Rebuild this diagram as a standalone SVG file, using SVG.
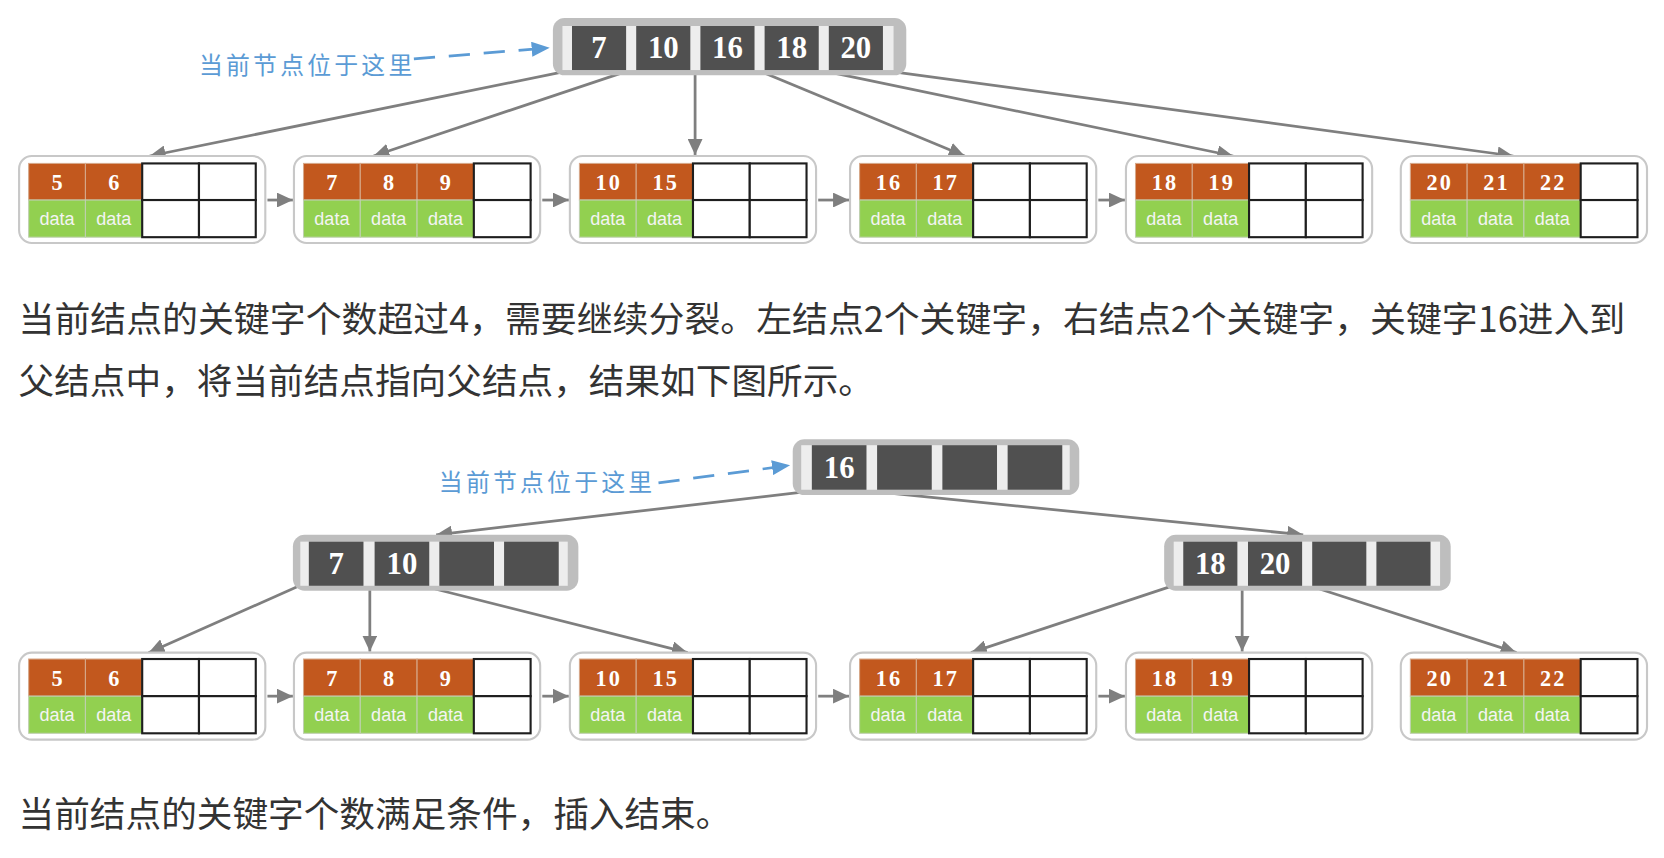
<svg xmlns="http://www.w3.org/2000/svg" width="1664" height="858" viewBox="0 0 1664 858">
<style>
.bg{fill:#ffffff}
.nOut{fill:#BEBEBE}
.nIn{fill:#EDEDED}
.nCell{fill:#505050}
.nTxt{font-family:"Liberation Serif",serif;font-weight:bold;font-size:29px;fill:#ffffff;text-anchor:middle}
.leafBox{fill:#ffffff;stroke:#C8C8C8;stroke-width:2}
.ok{fill:#C2581E;stroke:#D6A88A;stroke-width:1}
.gd{fill:#92D050;stroke:#BFD0B0;stroke-width:1}
.em{fill:#ffffff;stroke:#1E1E1E;stroke-width:2}
.kTxt{font-family:"Liberation Serif",serif;font-weight:bold;font-size:21px;fill:#ffffff;text-anchor:middle;letter-spacing:2px}
.dTxt{font-family:"Liberation Sans",Arial,sans-serif;font-size:17px;fill:#F4F4F4;text-anchor:middle}
.edge{stroke:#7F7F7F;stroke-width:2.6;fill:none;marker-end:url(#ag)}
.dash{stroke:#5B9BD5;stroke-width:2.6;fill:none;stroke-dasharray:20 13;marker-end:url(#ab)}
.blue{font-family:"Noto Sans CJK SC","Noto Sans",sans-serif;font-size:22.5px;fill:#5B9BD5}
.body{font-family:"Noto Sans CJK SC","Noto Sans",sans-serif;font-size:33.6px;fill:#333333}
</style>
<defs>
<marker id="ag" markerUnits="userSpaceOnUse" markerWidth="16" markerHeight="14" refX="15" refY="7" orient="auto"><path d="M0,0 L15,7 L0,14 z" fill="#7F7F7F"/></marker>
<marker id="ab" markerUnits="userSpaceOnUse" markerWidth="18" markerHeight="14" refX="17" refY="7" orient="auto"><path d="M0,0 L17,7 L0,14 z" fill="#5B9BD5"/></marker>
</defs>
<rect class="bg" x="0" y="0" width="1664" height="858"/>
<g transform="scale(1.06122)">

<!-- connectors -->
<g id="connectors">
<path class="dash" d="M390,55.5 L518,45"/>
<path class="edge" d="M534,67 L141,147"/>
<path class="edge" d="M591,67 L352,147"/>
<path class="edge" d="M655,67 L655,146"/>
<path class="edge" d="M716,67 L909,147"/>
<path class="edge" d="M777,67 L1162,147"/>
<path class="edge" d="M837,67 L1426,147"/>
<path class="edge" d="M252,188.5 L276,188.5"/>
<path class="edge" d="M511,188.5 L536,188.5"/>
<path class="edge" d="M771,188.5 L800,188.5"/>
<path class="edge" d="M1035,188.5 L1060,188.5"/>

<path class="dash" d="M620.5,455 L744.5,438.5"/>
<path class="edge" d="M762,463 L411,504"/>
<path class="edge" d="M822,463 L1228,504"/>
<path class="edge" d="M280,553 L140,615"/>
<path class="edge" d="M348.5,556 L348.5,614"/>
<path class="edge" d="M410,555 L648,615"/>
<path class="edge" d="M1102,553 L915,615"/>
<path class="edge" d="M1170.5,556 L1170.5,614"/>
<path class="edge" d="M1243.5,555 L1429,615"/>
<path class="edge" d="M252,656 L276,656"/>
<path class="edge" d="M511,656 L536,656"/>
<path class="edge" d="M771,656 L800,656"/>
<path class="edge" d="M1035,656 L1060,656"/>
</g>

<text class="blue" x="187.5" y="69.5" textLength="201" lengthAdjust="spacing">当前节点位于这里</text>
<text class="blue" x="413.5" y="463" textLength="201" lengthAdjust="spacing">当前节点位于这里</text>

<!-- Diagram 1 top node -->
<g id="n1">
<rect class="nOut" x="521" y="17" width="333" height="54" rx="11"/>
<rect class="nIn" x="530" y="24.5" width="312" height="41.5"/>
<rect class="nCell" x="539" y="24.5" width="51" height="41.5"/>
<rect class="nCell" x="599.5" y="24.5" width="51" height="41.5"/>
<rect class="nCell" x="660" y="24.5" width="51" height="41.5"/>
<rect class="nCell" x="720.5" y="24.5" width="51" height="41.5"/>
<rect class="nCell" x="781" y="24.5" width="51" height="41.5"/>
<text class="nTxt" x="564.5" y="55">7</text>
<text class="nTxt" x="625" y="55">10</text>
<text class="nTxt" x="685.5" y="55">16</text>
<text class="nTxt" x="746" y="55">18</text>
<text class="nTxt" x="806.5" y="55">20</text>
</g>

<!-- Diagram 1 leaves -->
<g id="d1l1" transform="translate(18,147)">
<rect class="leafBox" x="0" y="0" width="232" height="82" rx="12"/>
<rect class="ok" x="9" y="7" width="53.5" height="34.5"/><rect class="ok" x="62.5" y="7" width="53.5" height="34.5"/>
<rect class="gd" x="9" y="41.5" width="53.5" height="35"/><rect class="gd" x="62.5" y="41.5" width="53.5" height="35"/>
<rect class="em" x="116" y="7" width="53.5" height="34.5"/><rect class="em" x="169.5" y="7" width="53.5" height="34.5"/>
<rect class="em" x="116" y="41.5" width="53.5" height="35"/><rect class="em" x="169.5" y="41.5" width="53.5" height="35"/>
<text class="kTxt" x="36.75" y="32">5</text><text class="kTxt" x="90.25" y="32">6</text>
<text class="dTxt" x="35.75" y="65">data</text><text class="dTxt" x="89.25" y="65">data</text>
</g>
<g id="d1l2" transform="translate(277,147)">
<rect class="leafBox" x="0" y="0" width="232" height="82" rx="12"/>
<rect class="ok" x="9" y="7" width="53.5" height="34.5"/><rect class="ok" x="62.5" y="7" width="53.5" height="34.5"/><rect class="ok" x="116" y="7" width="53.5" height="34.5"/>
<rect class="gd" x="9" y="41.5" width="53.5" height="35"/><rect class="gd" x="62.5" y="41.5" width="53.5" height="35"/><rect class="gd" x="116" y="41.5" width="53.5" height="35"/>
<rect class="em" x="169.5" y="7" width="53.5" height="34.5"/><rect class="em" x="169.5" y="41.5" width="53.5" height="35"/>
<text class="kTxt" x="36.75" y="32">7</text><text class="kTxt" x="90.25" y="32">8</text><text class="kTxt" x="143.75" y="32">9</text>
<text class="dTxt" x="35.75" y="65">data</text><text class="dTxt" x="89.25" y="65">data</text><text class="dTxt" x="142.75" y="65">data</text>
</g>
<g id="d1l3" transform="translate(537,147)">
<rect class="leafBox" x="0" y="0" width="232" height="82" rx="12"/>
<rect class="ok" x="9" y="7" width="53.5" height="34.5"/><rect class="ok" x="62.5" y="7" width="53.5" height="34.5"/>
<rect class="gd" x="9" y="41.5" width="53.5" height="35"/><rect class="gd" x="62.5" y="41.5" width="53.5" height="35"/>
<rect class="em" x="116" y="7" width="53.5" height="34.5"/><rect class="em" x="169.5" y="7" width="53.5" height="34.5"/>
<rect class="em" x="116" y="41.5" width="53.5" height="35"/><rect class="em" x="169.5" y="41.5" width="53.5" height="35"/>
<text class="kTxt" x="36.75" y="32">10</text><text class="kTxt" x="90.25" y="32">15</text>
<text class="dTxt" x="35.75" y="65">data</text><text class="dTxt" x="89.25" y="65">data</text>
</g>
<g id="d1l4" transform="translate(801,147)">
<rect class="leafBox" x="0" y="0" width="232" height="82" rx="12"/>
<rect class="ok" x="9" y="7" width="53.5" height="34.5"/><rect class="ok" x="62.5" y="7" width="53.5" height="34.5"/>
<rect class="gd" x="9" y="41.5" width="53.5" height="35"/><rect class="gd" x="62.5" y="41.5" width="53.5" height="35"/>
<rect class="em" x="116" y="7" width="53.5" height="34.5"/><rect class="em" x="169.5" y="7" width="53.5" height="34.5"/>
<rect class="em" x="116" y="41.5" width="53.5" height="35"/><rect class="em" x="169.5" y="41.5" width="53.5" height="35"/>
<text class="kTxt" x="36.75" y="32">16</text><text class="kTxt" x="90.25" y="32">17</text>
<text class="dTxt" x="35.75" y="65">data</text><text class="dTxt" x="89.25" y="65">data</text>
</g>
<g id="d1l5" transform="translate(1061,147)">
<rect class="leafBox" x="0" y="0" width="232" height="82" rx="12"/>
<rect class="ok" x="9" y="7" width="53.5" height="34.5"/><rect class="ok" x="62.5" y="7" width="53.5" height="34.5"/>
<rect class="gd" x="9" y="41.5" width="53.5" height="35"/><rect class="gd" x="62.5" y="41.5" width="53.5" height="35"/>
<rect class="em" x="116" y="7" width="53.5" height="34.5"/><rect class="em" x="169.5" y="7" width="53.5" height="34.5"/>
<rect class="em" x="116" y="41.5" width="53.5" height="35"/><rect class="em" x="169.5" y="41.5" width="53.5" height="35"/>
<text class="kTxt" x="36.75" y="32">18</text><text class="kTxt" x="90.25" y="32">19</text>
<text class="dTxt" x="35.75" y="65">data</text><text class="dTxt" x="89.25" y="65">data</text>
</g>
<g id="d1l6" transform="translate(1320,147)">
<rect class="leafBox" x="0" y="0" width="232" height="82" rx="12"/>
<rect class="ok" x="9" y="7" width="53.5" height="34.5"/><rect class="ok" x="62.5" y="7" width="53.5" height="34.5"/><rect class="ok" x="116" y="7" width="53.5" height="34.5"/>
<rect class="gd" x="9" y="41.5" width="53.5" height="35"/><rect class="gd" x="62.5" y="41.5" width="53.5" height="35"/><rect class="gd" x="116" y="41.5" width="53.5" height="35"/>
<rect class="em" x="169.5" y="7" width="53.5" height="34.5"/><rect class="em" x="169.5" y="41.5" width="53.5" height="35"/>
<text class="kTxt" x="36.75" y="32">20</text><text class="kTxt" x="90.25" y="32">21</text><text class="kTxt" x="143.75" y="32">22</text>
<text class="dTxt" x="35.75" y="65">data</text><text class="dTxt" x="89.25" y="65">data</text><text class="dTxt" x="142.75" y="65">data</text>
</g>

<text class="body" x="17.5" y="313" textLength="1514" lengthAdjust="spacingAndGlyphs">当前结点的关键字个数超过4，需要继续分裂。左结点2个关键字，右结点2个关键字，关键字16进入到</text>
<text class="body" x="17.5" y="371">父结点中，将当前结点指向父结点，结果如下图所示。</text>

<!-- Diagram 2 nodes -->
<g id="n2">
<rect class="nOut" x="747" y="414" width="270" height="52.5" rx="11"/>
<rect class="nIn" x="755" y="419.5" width="253" height="42"/>
<rect class="nCell" x="765" y="419.5" width="51.5" height="42"/>
<rect class="nCell" x="826.5" y="419.5" width="51.5" height="42"/>
<rect class="nCell" x="888" y="419.5" width="51.5" height="42"/>
<rect class="nCell" x="949.5" y="419.5" width="51.5" height="42"/>
<text class="nTxt" x="790.75" y="450.5">16</text>
</g>
<g id="n3">
<rect class="nOut" x="276" y="504" width="269" height="52.6" rx="11"/>
<rect class="nIn" x="283" y="510.4" width="252" height="41.6"/>
<rect class="nCell" x="291" y="510.4" width="51.5" height="41.6"/>
<rect class="nCell" x="353" y="510.4" width="51.5" height="41.6"/>
<rect class="nCell" x="414" y="510.4" width="51.5" height="41.6"/>
<rect class="nCell" x="475" y="510.4" width="51.5" height="41.6"/>
<text class="nTxt" x="316.75" y="541">7</text>
<text class="nTxt" x="378.75" y="541">10</text>
</g>
<g id="n4">
<rect class="nOut" x="1097" y="504" width="270" height="52.6" rx="11"/>
<rect class="nIn" x="1106" y="510.4" width="251" height="41.6"/>
<rect class="nCell" x="1115" y="510.4" width="51" height="41.6"/>
<rect class="nCell" x="1176" y="510.4" width="51" height="41.6"/>
<rect class="nCell" x="1236.5" y="510.4" width="51" height="41.6"/>
<rect class="nCell" x="1297" y="510.4" width="51" height="41.6"/>
<text class="nTxt" x="1140.5" y="541">18</text>
<text class="nTxt" x="1201.5" y="541">20</text>
</g>

<!-- Diagram 2 leaves -->
<g id="d2l1" transform="translate(18,615)">
<rect class="leafBox" x="0" y="0" width="232" height="82" rx="12"/>
<rect class="ok" x="9" y="6" width="53.5" height="35"/><rect class="ok" x="62.5" y="6" width="53.5" height="35"/>
<rect class="gd" x="9" y="41" width="53.5" height="35"/><rect class="gd" x="62.5" y="41" width="53.5" height="35"/>
<rect class="em" x="116" y="6" width="53.5" height="35"/><rect class="em" x="169.5" y="6" width="53.5" height="35"/>
<rect class="em" x="116" y="41" width="53.5" height="35"/><rect class="em" x="169.5" y="41" width="53.5" height="35"/>
<text class="kTxt" x="36.75" y="31.5">5</text><text class="kTxt" x="90.25" y="31.5">6</text>
<text class="dTxt" x="35.75" y="64.5">data</text><text class="dTxt" x="89.25" y="64.5">data</text>
</g>
<g id="d2l2" transform="translate(277,615)">
<rect class="leafBox" x="0" y="0" width="232" height="82" rx="12"/>
<rect class="ok" x="9" y="6" width="53.5" height="35"/><rect class="ok" x="62.5" y="6" width="53.5" height="35"/><rect class="ok" x="116" y="6" width="53.5" height="35"/>
<rect class="gd" x="9" y="41" width="53.5" height="35"/><rect class="gd" x="62.5" y="41" width="53.5" height="35"/><rect class="gd" x="116" y="41" width="53.5" height="35"/>
<rect class="em" x="169.5" y="6" width="53.5" height="35"/><rect class="em" x="169.5" y="41" width="53.5" height="35"/>
<text class="kTxt" x="36.75" y="31.5">7</text><text class="kTxt" x="90.25" y="31.5">8</text><text class="kTxt" x="143.75" y="31.5">9</text>
<text class="dTxt" x="35.75" y="64.5">data</text><text class="dTxt" x="89.25" y="64.5">data</text><text class="dTxt" x="142.75" y="64.5">data</text>
</g>
<g id="d2l3" transform="translate(537,615)">
<rect class="leafBox" x="0" y="0" width="232" height="82" rx="12"/>
<rect class="ok" x="9" y="6" width="53.5" height="35"/><rect class="ok" x="62.5" y="6" width="53.5" height="35"/>
<rect class="gd" x="9" y="41" width="53.5" height="35"/><rect class="gd" x="62.5" y="41" width="53.5" height="35"/>
<rect class="em" x="116" y="6" width="53.5" height="35"/><rect class="em" x="169.5" y="6" width="53.5" height="35"/>
<rect class="em" x="116" y="41" width="53.5" height="35"/><rect class="em" x="169.5" y="41" width="53.5" height="35"/>
<text class="kTxt" x="36.75" y="31.5">10</text><text class="kTxt" x="90.25" y="31.5">15</text>
<text class="dTxt" x="35.75" y="64.5">data</text><text class="dTxt" x="89.25" y="64.5">data</text>
</g>
<g id="d2l4" transform="translate(801,615)">
<rect class="leafBox" x="0" y="0" width="232" height="82" rx="12"/>
<rect class="ok" x="9" y="6" width="53.5" height="35"/><rect class="ok" x="62.5" y="6" width="53.5" height="35"/>
<rect class="gd" x="9" y="41" width="53.5" height="35"/><rect class="gd" x="62.5" y="41" width="53.5" height="35"/>
<rect class="em" x="116" y="6" width="53.5" height="35"/><rect class="em" x="169.5" y="6" width="53.5" height="35"/>
<rect class="em" x="116" y="41" width="53.5" height="35"/><rect class="em" x="169.5" y="41" width="53.5" height="35"/>
<text class="kTxt" x="36.75" y="31.5">16</text><text class="kTxt" x="90.25" y="31.5">17</text>
<text class="dTxt" x="35.75" y="64.5">data</text><text class="dTxt" x="89.25" y="64.5">data</text>
</g>
<g id="d2l5" transform="translate(1061,615)">
<rect class="leafBox" x="0" y="0" width="232" height="82" rx="12"/>
<rect class="ok" x="9" y="6" width="53.5" height="35"/><rect class="ok" x="62.5" y="6" width="53.5" height="35"/>
<rect class="gd" x="9" y="41" width="53.5" height="35"/><rect class="gd" x="62.5" y="41" width="53.5" height="35"/>
<rect class="em" x="116" y="6" width="53.5" height="35"/><rect class="em" x="169.5" y="6" width="53.5" height="35"/>
<rect class="em" x="116" y="41" width="53.5" height="35"/><rect class="em" x="169.5" y="41" width="53.5" height="35"/>
<text class="kTxt" x="36.75" y="31.5">18</text><text class="kTxt" x="90.25" y="31.5">19</text>
<text class="dTxt" x="35.75" y="64.5">data</text><text class="dTxt" x="89.25" y="64.5">data</text>
</g>
<g id="d2l6" transform="translate(1320,615)">
<rect class="leafBox" x="0" y="0" width="232" height="82" rx="12"/>
<rect class="ok" x="9" y="6" width="53.5" height="35"/><rect class="ok" x="62.5" y="6" width="53.5" height="35"/><rect class="ok" x="116" y="6" width="53.5" height="35"/>
<rect class="gd" x="9" y="41" width="53.5" height="35"/><rect class="gd" x="62.5" y="41" width="53.5" height="35"/><rect class="gd" x="116" y="41" width="53.5" height="35"/>
<rect class="em" x="169.5" y="6" width="53.5" height="35"/><rect class="em" x="169.5" y="41" width="53.5" height="35"/>
<text class="kTxt" x="36.75" y="31.5">20</text><text class="kTxt" x="90.25" y="31.5">21</text><text class="kTxt" x="143.75" y="31.5">22</text>
<text class="dTxt" x="35.75" y="64.5">data</text><text class="dTxt" x="89.25" y="64.5">data</text><text class="dTxt" x="142.75" y="64.5">data</text>
</g>

<text class="body" x="17.5" y="779">当前结点的关键字个数满足条件，插入结束。</text>
</g>
</svg>
